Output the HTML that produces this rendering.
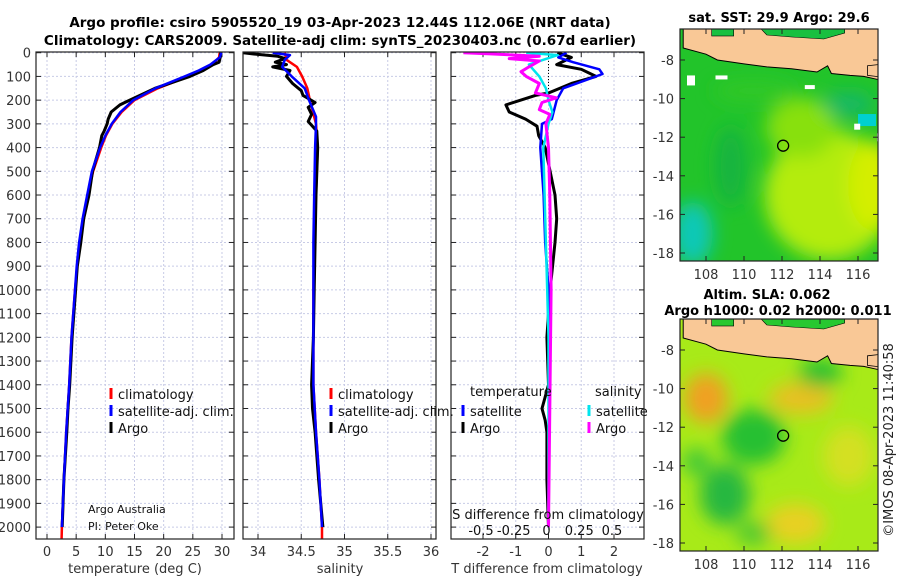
<!DOCTYPE html>
<html><head><meta charset="utf-8">
<style>
html,body{margin:0;padding:0;background:#fff;}
svg{display:block;font-family:"DejaVu Sans","Liberation Sans",sans-serif;}
</style></head>
<body>
<svg id="fig" width="900" height="580" viewBox="0 0 900 580" xmlns="http://www.w3.org/2000/svg">
<defs>
<filter id="blur6" x="-50%" y="-50%" width="200%" height="200%"><feGaussianBlur stdDeviation="9"/></filter>
<clipPath id="clipM1"><rect x="680" y="29" width="198" height="232"/></clipPath>
<clipPath id="clipM2"><rect x="680" y="319" width="198" height="232"/></clipPath>
<clipPath id="clipP1"><rect x="36" y="52" width="198" height="487"/></clipPath>
<clipPath id="clipP2"><rect x="243" y="52" width="193" height="487"/></clipPath>
<clipPath id="clipP3"><rect x="451" y="52" width="193" height="487"/></clipPath>
</defs>
<text x="340" y="27" text-anchor="middle" font-weight="bold" font-size="13.5" fill="#000">Argo profile: csiro 5905520_19 03-Apr-2023 12.44S 112.06E (NRT data)</text>
<text x="340" y="45" text-anchor="middle" font-weight="bold" font-size="13.5" fill="#000">Climatology: CARS2009. Satellite-adj clim: synTS_20230403.nc (0.67d earlier)</text>
<g id="panels"></g>
<g id="maps"></g>
<text transform="translate(893,440) rotate(-90)" text-anchor="middle" font-size="13" fill="#222">©IMOS 08-Apr-2023 11:40:58</text>
</svg>
<script>
// ---------- data ----------
const depthTicks=[0,100,200,300,400,500,600,700,800,900,1000,1100,1200,1300,1400,1500,1600,1700,1800,1900,2000];
const tempTicks=[0,5,10,15,20,25,30];
const salTicks=[34,34.5,35,35.5,36];
const tdiffTicks=[-2,-1,0,1,2];
const sdiffTicks=[-0.5,-0.25,0,0.25,0.5];
const sdiffTickLabels=['-0.5','-0.25','0','0.25','0.5'];

const tClimDepth=[0,20,50,75,100,150,200,250,300,350,400,500,600,700,800,900,1000,1200,1400,1600,1800,2000,2050];
const tClim=[29.6,29.5,28.3,26.5,24.2,19.0,15.0,12.8,11.2,10.1,9.3,7.9,7.0,6.2,5.6,5.2,4.8,4.2,3.8,3.3,2.9,2.55,2.5];
const tSatDepth=[0,20,50,75,100,150,200,250,300,350,400,500,600,700,800,900,1000,1200,1400,1600,1800,2000];
const tSat=[29.9,29.6,28.0,26.0,23.6,18.6,14.8,12.6,11.1,10.0,9.1,7.7,6.9,6.1,5.5,5.1,4.8,4.2,3.8,3.3,2.9,2.55];
const tArgoDepth=[0,20,40,50,75,100,150,200,220,250,280,300,330,350,400,500,600,700,800,900,1000,1200,1400,1500,1600,1800,2000];
const tArgo=[29.8,29.7,29.5,28.5,26.8,24.5,18.5,14.2,12.5,11.0,10.5,10.3,9.8,9.4,9.0,7.8,7.2,6.3,5.8,5.2,4.9,4.3,3.9,3.6,3.4,2.9,2.6];

const sClimDepth=[0,30,60,100,150,200,300,400,600,800,1000,1200,1400,1600,1800,2000,2050];
const sClim=[34.31,34.33,34.45,34.51,34.57,34.6,34.67,34.69,34.67,34.65,34.64,34.64,34.64,34.67,34.71,34.74,34.74];
const sSatDepth=[0,10,30,60,100,150,200,270,300,400,600,800,1000,1200,1400,1600,1800,2000];
const sSat=[34.17,34.37,34.31,34.28,34.39,34.54,34.59,34.67,34.67,34.66,34.65,34.64,34.64,34.64,34.64,34.67,34.71,34.74];
const sArgoDepth=[0,5,15,25,40,50,60,75,100,130,160,180,210,230,260,290,330,400,600,800,1000,1200,1400,1500,1600,1800,2000];
const sArgo=[33.83,33.94,34.23,34.31,34.2,34.33,34.17,34.37,34.33,34.4,34.5,34.52,34.66,34.58,34.62,34.58,34.68,34.69,34.67,34.66,34.65,34.64,34.62,34.63,34.66,34.7,34.75];

const dTArgoDepth=[0,20,50,70,100,130,170,180,220,250,280,310,350,400,500,600,700,800,1000,1200,1400,1500,1550,1600,1800,2000];
const dTArgo=[0.27,0.7,0.25,1.0,1.45,0.7,0.0,-0.4,-1.3,-1.2,-0.7,-0.35,-0.3,-0.1,0.05,0.2,0.25,0.2,0.05,-0.05,0,-0.2,-0.1,-0.05,-0.05,0];
const dTSatDepth=[0,20,40,70,90,110,150,200,280,300,400,600,800,1000,1400,2000];
const dTSat=[0.55,0.3,0.75,1.55,1.65,1.25,0.45,0.25,0.1,-0.2,-0.25,-0.15,-0.1,0,0.02,0];
const dSSatDepth=[0,10,50,100,150,200,250,300,400,800,1200,2000];
const dSSat=[-0.17,0.07,-0.15,-0.07,-0.02,0,0.03,0,-0.04,-0.02,0,0];
const dSArgoDepth=[0,5,15,25,35,60,80,100,130,170,190,210,240,260,300,400,600,1000,2000];
const dSArgo=[-0.65,-0.44,-0.07,-0.3,-0.07,-0.15,-0.21,-0.17,-0.07,-0.1,0.06,-0.05,-0.07,0.01,-0.02,0,0.01,0.02,0];

const mapLonTicks=[108,110,112,114,116];
const mapLatTicks=[-8,-10,-12,-14,-16,-18];
const argoLon=112.06, argoLat=-12.44;

// ---------- helpers ----------
const NS='http://www.w3.org/2000/svg';
function mk(tag,attrs,parent,text){const e=document.createElementNS(NS,tag);for(const k in attrs)e.setAttribute(k,attrs[k]);if(text!==undefined)e.textContent=text;parent.appendChild(e);return e;}
const yD=d=>52.7+d*0.2372;
const xT=t=>47+t*5.833;
const xS=s=>258+(s-34)*86.5;
const xDT=t=>548.5+t*32.75;
const xDS=s=>548.5+s*131;
const panels=document.getElementById('panels');

function axesFrame(x0,x1,g){
  depthTicks.forEach(d=>{const y=yD(d);
    const l=mk('line',{x1:x0,x2:x1,y1:y,y2:y,stroke:'#c8cbe6','stroke-width':1,'stroke-dasharray':'2,2'},g);
    
    mk('line',{x1:x0,x2:x0+5,y1:y,y2:y,stroke:'#222'},g);
    mk('line',{x1:x1-5,x2:x1,y1:y,y2:y,stroke:'#222'},g);
  });
}
function vgrid(xs,g){xs.forEach(x=>{
  const l=mk('line',{x1:x,x2:x,y1:52,y2:539,stroke:'#c8cbe6','stroke-width':1,'stroke-dasharray':'2,2'},g);
  
  mk('line',{x1:x,x2:x,y1:539,y2:534,stroke:'#222'},g);
  mk('line',{x1:x,x2:x,y1:52,y2:57,stroke:'#222'},g);
});}
function border(x0,x1,g){const r=mk('rect',{x:x0,y:52,width:x1-x0,height:487,fill:'none',stroke:'#222','stroke-width':1.2},g);}
function line(ds,vs,xf,color,w,g,name,clip){
  const pts=ds.map((d,i)=>xf(vs[i]).toFixed(1)+','+yD(d).toFixed(1)).join(' ');
  const p=mk('polyline',{points:pts,fill:'none',stroke:color,'stroke-width':w,'stroke-linejoin':'round','clip-path':clip},g);
  return p;
}
function legendItem(x,y,color,label,g,name){
  const gg=mk('g',{},g);
  mk('line',{x1:x,x2:x,y1:y-7,y2:y+4,stroke:color,'stroke-width':3},gg);
  mk('text',{x:x+7,y:y+4,'font-size':13,fill:'#111'},gg,label);
}

// Panel 1 temperature
let g1=mk('g',{},panels);
axesFrame(36,234,g1);vgrid(tempTicks.map(xT),g1);
depthTicks.forEach(d=>{const t=mk('text',{x:31,y:yD(d)+5,'text-anchor':'end','font-size':13,fill:'#333'},g1,String(d));});
tempTicks.forEach(v=>{const t=mk('text',{x:xT(v),y:556,'text-anchor':'middle','font-size':13,fill:'#333'},g1,String(v));});
mk('text',{x:135,y:573,'text-anchor':'middle','font-size':13,fill:'#333',},g1,'temperature (deg C)');
line(tClimDepth,tClim,xT,'#ff0000',2.5,g1,'temp-climatology-line','url(#clipP1)');
line(tArgoDepth,tArgo,xT,'#000',3,g1,'temp-argo-line','url(#clipP1)');
line(tSatDepth,tSat,xT,'#0000ff',2.5,g1,'temp-satellite-line','url(#clipP1)');
legendItem(111,395,'#ff0000','climatology',g1,'legend-climatology');
legendItem(111,412,'#0000ff','satellite-adj. clim.',g1,'legend-satellite');
legendItem(111,429,'#000','Argo',g1,'legend-argo');
mk('text',{x:88,y:513,'font-size':11,fill:'#111',},g1,'Argo Australia');
mk('text',{x:88,y:530,'font-size':11,fill:'#111',},g1,'PI: Peter Oke');
border(36,234,g1);

// Panel 2 salinity
let g2=mk('g',{},panels);
axesFrame(243,436,g2);vgrid(salTicks.map(xS),g2);
salTicks.forEach(v=>{const t=mk('text',{x:xS(v),y:556,'text-anchor':'middle','font-size':13,fill:'#333'},g2,String(v));});
mk('text',{x:340,y:573,'text-anchor':'middle','font-size':13,fill:'#333',},g2,'salinity');
line(sClimDepth,sClim,xS,'#ff0000',2.5,g2,'sal-climatology-line','url(#clipP2)');
line(sArgoDepth,sArgo,xS,'#000',3,g2,'sal-argo-line','url(#clipP2)');
line(sSatDepth,sSat,xS,'#0000ff',2.5,g2,'sal-satellite-line','url(#clipP2)');
legendItem(331,395,'#ff0000','climatology',g2,'legend-climatology-2');
legendItem(331,412,'#0000ff','satellite-adj. clim.',g2,'legend-satellite-2');
legendItem(331,429,'#000','Argo',g2,'legend-argo-2');
border(243,436,g2);

// Panel 3 differences
let g3=mk('g',{},panels);
axesFrame(451,644,g3);vgrid(tdiffTicks.map(xDT),g3);
mk('line',{x1:xDT(0),x2:xDT(0),y1:52,y2:yD(160),stroke:'#000','stroke-width':1,'stroke-dasharray':'1,2',},g3);
tdiffTicks.forEach(v=>{const t=mk('text',{x:xDT(v),y:556,'text-anchor':'middle','font-size':13,fill:'#333'},g3,String(v));});
mk('text',{x:547,y:573,'text-anchor':'middle','font-size':13,fill:'#333',},g3,'T difference from climatology');
line(dTArgoDepth,dTArgo,xDT,'#000',3,g3,'tdiff-argo-line','url(#clipP3)');
line(dTSatDepth,dTSat,xDT,'#0000ff',2.5,g3,'tdiff-satellite-line','url(#clipP3)');
line(dSSatDepth,dSSat,xDS,'#00e5ee',2.5,g3,'sdiff-satellite-line','url(#clipP3)');
line(dSArgoDepth,dSArgo,xDS,'#ff00ff',3,g3,'sdiff-argo-line','url(#clipP3)');
mk('text',{x:470,y:396,'font-size':13,fill:'#111',},g3,'temperature');
mk('text',{x:595,y:396,'font-size':13,fill:'#111',},g3,'salinity');
legendItem(463,412,'#0000ff','satellite',g3,'legend-tdiff-satellite');
legendItem(463,429,'#000','Argo',g3,'legend-tdiff-argo');
legendItem(589,412,'#00e5ee','satellite',g3,'legend-sdiff-satellite');
legendItem(589,429,'#ff00ff','Argo',g3,'legend-sdiff-argo');
mk('text',{x:548,y:519,'text-anchor':'middle','font-size':13,fill:'#111',},g3,'S difference from climatology');
sdiffTicks.forEach((v,i)=>{const t=mk('text',{x:xDS(v)-2,y:535,'text-anchor':'middle','font-size':13,fill:'#111'},g3,sdiffTickLabels[i]);});
border(451,644,g3);

// ---------- maps ----------
const maps=document.getElementById('maps');
const mx=lon=>706+(lon-108)*19;
function drawMap(y0,kind,title1,title2){
  const my=lat=>y0+31+(-8-lat)*19.3;
  const g=mk('g',{},maps);
  const clip=kind==='sst'?'url(#clipM1)':'url(#clipM2)';
  const b=mk('g',{'clip-path':clip},g);
  if(kind==='sst'){
    mk('rect',{x:680,y:y0,width:198,height:232,fill:'#22c42a'},b);
    const gb=mk('g',{filter:'url(#blur6)'},b);
    mk('ellipse',{cx:mx(114.5),cy:my(-15),rx:65,ry:65,fill:'#b4ec08'},gb);
    mk('ellipse',{cx:mx(113),cy:my(-11.5),rx:35,ry:30,fill:'#88e010'},gb);
    mk('ellipse',{cx:mx(116.8),cy:my(-14.5),rx:25,ry:45,fill:'#d4ee00'},gb);
    mk('ellipse',{cx:mx(107.3),cy:my(-17),rx:20,ry:32,fill:'#10c8b8'},gb);
    mk('ellipse',{cx:mx(109.3),cy:my(-13.5),rx:16,ry:40,fill:'#18b440'},gb);
    mk('ellipse',{cx:mx(115.5),cy:my(-10.3),rx:26,ry:12,fill:'#18b868'},gb);
    mk('ellipse',{cx:mx(110.5),cy:my(-9.6),rx:40,ry:10,fill:'#30c828'},gb);
    mk('rect',{x:mx(116),y:my(-10.8),width:18,height:12,fill:'#00d0d0'},b);
    mk('rect',{x:mx(107),y:my(-8.8),width:8,height:10,fill:'#fff'},b);
    mk('rect',{x:mx(108.5),y:my(-8.8),width:12,height:4,fill:'#fff'},b);
    mk('rect',{x:mx(113.2),y:my(-9.3),width:10,height:4,fill:'#fff'},b);
    mk('rect',{x:mx(115.8),y:my(-11.3),width:6,height:6,fill:'#fff'},b);
    mk('rect',{x:mx(117),y:my(-11.8),width:4,height:8,fill:'#fff'},b);
  } else {
    mk('rect',{x:680,y:y0,width:198,height:232,fill:'#a8ea18'},b);
    const gb=mk('g',{filter:'url(#blur6)'},b);
    mk('ellipse',{cx:mx(108),cy:my(-10.5),rx:22,ry:25,fill:'#f0a020'},gb);
    mk('ellipse',{cx:mx(113),cy:my(-10.5),rx:32,ry:16,fill:'#e8c020'},gb);
    mk('ellipse',{cx:mx(112.7),cy:my(-17),rx:30,ry:20,fill:'#e8d020'},gb);
    mk('ellipse',{cx:mx(115.5),cy:my(-13.5),rx:25,ry:30,fill:'#d4e020'},gb);
    mk('ellipse',{cx:mx(110.5),cy:my(-12.5),rx:32,ry:28,fill:'#28c030'},gb);
    mk('ellipse',{cx:mx(109),cy:my(-15.5),rx:25,ry:30,fill:'#28b840'},gb);
    mk('ellipse',{cx:mx(107.5),cy:my(-13.8),rx:14,ry:14,fill:'#40c838'},gb);
    mk('ellipse',{cx:mx(114),cy:my(-9.2),rx:22,ry:14,fill:'#20c030'},gb);
    mk('ellipse',{cx:mx(110.5),cy:my(-17.5),rx:18,ry:12,fill:'#50c830'},gb);
  }
  // Java land
  const land=[[106.8,-6.3],[106.8,-7.38],[108,-7.7],[108.6,-8.0],[110,-8.2],[111.2,-8.36],[112.5,-8.45],[113.84,-8.62],[114.4,-8.3],[114.6,-8.7],[115.58,-8.8],[116.3,-8.85],[117,-9.0],[117.4,-9.1],[117.4,-6.3]];
  const lp=mk('polygon',{points:land.map(p=>mx(p[0]).toFixed(1)+','+my(p[1]).toFixed(1)).join(' '),fill:'#f9c896',stroke:'#000','stroke-width':1},b);
  
  // northern sea patches
  const seaC=kind==='sst'?'#18c040':'#28c830';
  mk('rect',{x:mx(108.3),y:y0,width:22,height:7,fill:seaC,stroke:'#000','stroke-width':0.6},b);
  mk('polygon',{points:`${mx(110.9)},${y0} ${mx(115.3)},${y0} ${mx(115.3)},${y0+4} ${mx(114.2)},${y0+10} ${mx(112.5)},${y0+8} ${mx(111.2)},${y0+6}`,fill:seaC,stroke:'#000','stroke-width':0.6},b);
  mk('polygon',{points:`${mx(116.5)},${my(-8.3)} ${mx(117.4)},${my(-8.2)} ${mx(117.4)},${my(-8.9)} ${mx(116.5)},${my(-8.8)}`,fill:'#f9c896',stroke:'#000','stroke-width':0.8},b);
  // Argo position
  const c=mk('circle',{cx:mx(argoLon),cy:my(argoLat),r:5.5,fill:'none',stroke:'#000','stroke-width':1.3},g);
  
  mk('rect',{x:680,y:y0,width:198,height:232,fill:'none',stroke:'#222','stroke-width':1.2},g);
  mapLonTicks.forEach(v=>{mk('line',{x1:mx(v),x2:mx(v),y1:y0+232,y2:y0+227,stroke:'#222'},g);mk('line',{x1:mx(v),x2:mx(v),y1:y0,y2:y0+5,stroke:'#222'},g);
    const t=mk('text',{x:mx(v),y:y0+250,'text-anchor':'middle','font-size':13,fill:'#333'},g,String(v));});
  mapLatTicks.forEach(v=>{mk('line',{x1:680,x2:685,y1:my(v),y2:my(v),stroke:'#222'},g);mk('line',{x1:873,x2:878,y1:my(v),y2:my(v),stroke:'#222'},g);
    const t=mk('text',{x:674,y:my(v)+5,'text-anchor':'end','font-size':13,fill:'#333'},g,String(v));});
  if(title2){
    mk('text',{x:767,y:y0-20,'text-anchor':'middle','font-weight':'bold','font-size':13,fill:'#000',},g,title1);
    mk('text',{x:778,y:y0-4,'text-anchor':'middle','font-weight':'bold','font-size':13,fill:'#000',},g,title2);
  } else {
    mk('text',{x:779,y:y0-7,'text-anchor':'middle','font-weight':'bold','font-size':13,fill:'#000',},g,title1);
  }
}
drawMap(29,'sst','sat. SST: 29.9 Argo: 29.6');
drawMap(319,'sla','Altim. SLA: 0.062','Argo h1000: 0.02 h2000: 0.011');
</script>
</body></html>
